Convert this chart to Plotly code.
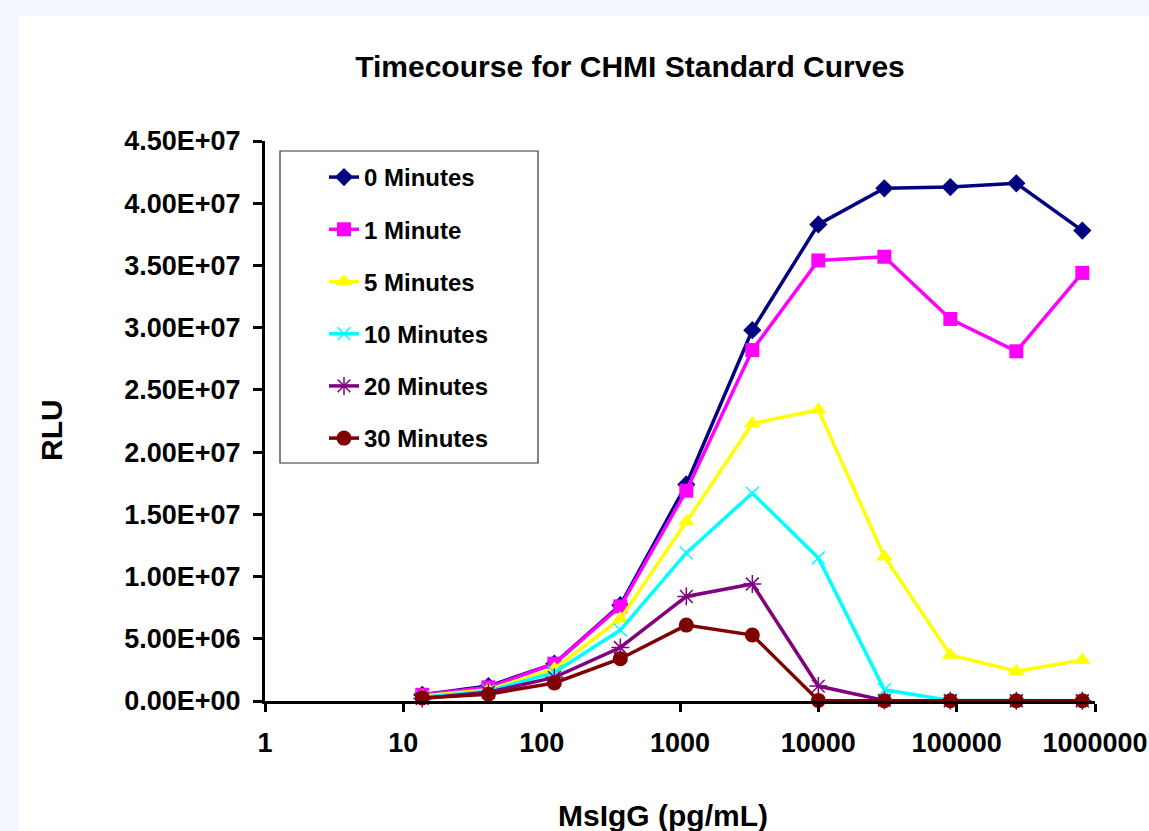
import plotly.graph_objects as go

###########################################################
# Data
###########################################################

conc = [13.7, 41.2, 123.5, 370.4, 1111, 3333, 10000, 30000, 90000, 270000, 810000]

min0 = [0.5e6, 1.2e6, 3.0e6, 7.7e6, 17.4e6, 29.8e6, 38.3e6, 41.2e6, 41.3e6, 41.6e6, 37.8e6]
min1 = [0.5e6, 1.1e6, 3.0e6, 7.6e6, 16.9e6, 28.2e6, 35.4e6, 35.7e6, 30.7e6, 28.1e6, 34.4e6]
min5 = [0.4e6, 0.9e6, 2.6e6, 6.6e6, 14.4e6, 22.3e6, 23.4e6, 11.6e6, 3.7e6, 2.4e6, 3.3e6]
min10 = [0.3e6, 0.8e6, 2.3e6, 5.7e6, 11.9e6, 16.7e6, 11.5e6, 0.9e6, 0.05e6, 0.02e6, 0.02e6]
min20 = [0.2e6, 0.7e6, 1.9e6, 4.3e6, 8.4e6, 9.4e6, 1.2e6, 0.05e6, 0.02e6, 0.02e6, 0.02e6]
min30 = [0.25e6, 0.55e6, 1.45e6, 3.4e6, 6.1e6, 5.3e6, 0.05e6, 0.02e6, 0.02e6, 0.02e6, 0.02e6]

x_tickvals = [1, 10, 100, 1000, 10000, 100000, 1000000]
x_ticktext = ["1", "10", "100", "1000", "10000", "100000", "1000000"]

y_tickvals = [0, 5e6, 1e7, 1.5e7, 2e7, 2.5e7, 3e7, 3.5e7, 4e7, 4.5e7]
y_ticktext = ["0.00E+00", "5.00E+06", "1.00E+07", "1.50E+07", "2.00E+07",
              "2.50E+07", "3.00E+07", "3.50E+07", "4.00E+07", "4.50E+07"]

FONT = "Liberation Sans, Arial, sans-serif"

###########################################################
# Series
###########################################################

series = [
    ("0 Minutes", min0, "#000080", "diamond", 14, 0),
    ("1 Minute", min1, "#FF00FF", "square", 14, 0),
    ("5 Minutes", min5, "#FFFF00", "triangle-up", 15, 0),
    ("10 Minutes", min10, "#00FFFF", "x-thin-open", 13, 1.5),
    ("20 Minutes", min20, "#800080", "asterisk-open", 15, 1.5),
    ("30 Minutes", min30, "#800000", "circle", 15, 0),
]

fig = go.Figure()

for name, vals, color, symbol, size, mlw in series:

    fig.add_trace(

        go.Scatter(

            x=conc,

            y=vals,

            name=name,

            legendgroup=name,

            mode="lines+markers",

            cliponaxis=False,

            line=dict(color=color, width=3.5),

            marker=dict(symbol=symbol, size=size, color=color,
                        line=dict(color=color, width=mlw))

        )

    )

###########################################################
# Layout
###########################################################

L, R, T, B = 265, 1095, 141, 701
W, H = 1149, 831


def px_x(px):
    return (px - L) / (R - L)


def px_y(py):
    return (B - py) / (B - T)


fig.update_layout(

    width=W,

    height=H,

    autosize=False,

    paper_bgcolor="#f3f7fe",

    plot_bgcolor="white",

    margin=dict(l=L, r=W - R, t=T, b=H - B, autoexpand=False),

    font=dict(family=FONT, color="black"),

    title=dict(
        text="<b>Timecourse for CHMI Standard Curves</b>",
        font=dict(size=30, family=FONT, color="black"),
        x=630 / W, xref="container", xanchor="center",
        y=1 - 66 / H, yref="container", yanchor="middle"
    ),

    legend=dict(
        x=px_x(324), y=px_y(155),
        xanchor="left", yanchor="top",
        bgcolor="rgba(0,0,0,0)",
        borderwidth=0,
        font=dict(size=24, family=FONT, color="black", weight="bold"),
        traceorder="grouped",
        tracegroupgap=18
    ),

    showlegend=True,

    shapes=[
        dict(type="rect", xref="paper", yref="paper", layer="below",
             x0=px_x(19), x1=px_x(W + 5), y0=px_y(16), y1=px_y(H + 5),
             fillcolor="white", line=dict(width=0)),
        dict(type="rect", xref="paper", yref="paper",
             x0=px_x(280), x1=px_x(538), y0=px_y(151), y1=px_y(463),
             fillcolor="rgba(0,0,0,0)", line=dict(color="#333333", width=1.2)),
    ],

    annotations=[
        dict(text="<b>MsIgG (pg/mL)</b>", xref="paper", yref="paper",
             x=px_x(663), y=px_y(815), xanchor="center", yanchor="middle",
             showarrow=False, font=dict(size=30, family=FONT, color="black")),
        dict(text="<b>RLU</b>", xref="paper", yref="paper",
             x=px_x(52), y=px_y(430), xanchor="center", yanchor="middle",
             textangle=-90,
             showarrow=False, font=dict(size=30, family=FONT, color="black")),
    ]

)

fig.update_xaxes(
    type="log",
    range=[0, 6],
    tickvals=x_tickvals,
    ticktext=x_ticktext,
    automargin=False,
    showgrid=False,
    zeroline=False,
    showline=True,
    linecolor="black",
    linewidth=3,
    ticks="outside",
    ticklen=8,
    tickwidth=3,
    tickcolor="black",
    ticklabelstandoff=8,
    tickfont=dict(size=27, family=FONT, color="black", weight="bold")
)

fig.update_yaxes(
    range=[0, 4.5e7],
    tickvals=y_tickvals,
    ticktext=y_ticktext,
    automargin=False,
    showgrid=False,
    zeroline=False,
    showline=True,
    linecolor="black",
    linewidth=3,
    ticks="outside",
    ticklen=9,
    tickwidth=3,
    tickcolor="black",
    ticklabelstandoff=7,
    tickfont=dict(size=27, family=FONT, color="black", weight="bold")
)

fig.write_html(
    "out.html",
    config=dict(displayModeBar=False, responsive=False),
    post_script="document.body.style.margin='0';document.body.style.overflow='hidden';"
)
